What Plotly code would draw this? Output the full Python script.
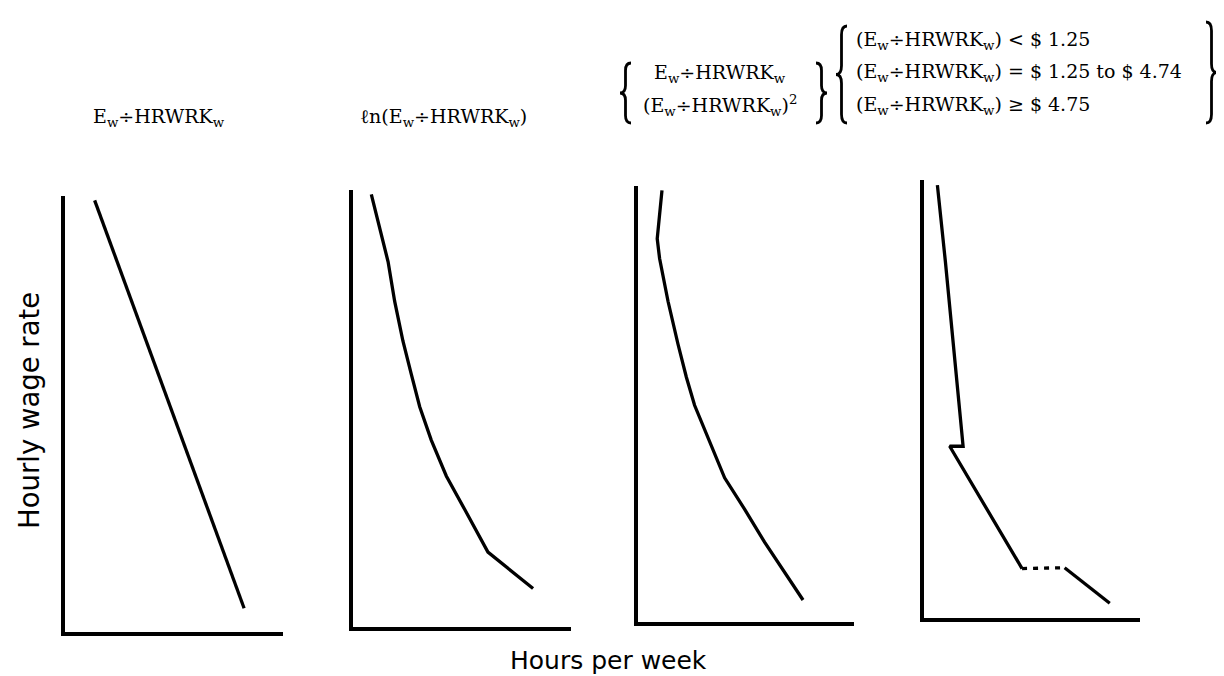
import plotly.graph_objects as go

W, H = 1224, 676

# ---- data (schematic units: hours per week 0-100, hourly wage rate 0-100) ----
p1_hours = [13.8, 59.6, 82.2]
p1_wage = [100.0, 36.9, 5.5]

p2_hours = [8.4, 11.5, 16.1, 19.1, 22.9, 26.7, 30.6, 35.9, 42.8, 51.2, 61.9, 82.6]
p2_wage = [100.0, 93.6, 84.4, 75.3, 66.1, 58.5, 50.9, 43.2, 34.9, 27.2, 17.3, 8.9]

p3_hours = [11.1, 10.0, 8.9, 10.0, 13.9, 18.5, 22.4, 26.2, 33.2, 40.1, 49.4, 58.6, 76.4]
p3_wage = [100.0, 95.0, 88.8, 84.2, 74.3, 64.4, 56.7, 50.2, 41.8, 33.4, 26.1, 18.5, 5.1]

p4_seg1_hours = [6.2, 9.9, 18.1, 11.9, 45.4]
p4_seg1_wage = [99.8, 82.2, 39.6, 39.6, 11.4]
p4_gap_hours = [45.4, 65.1]
p4_gap_wage = [11.4, 11.6]
p4_seg2_hours = [65.1, 86.0]
p4_seg2_wage = [11.6, 3.4]

sub_w = "E<sub>w</sub>÷HRWRK<sub>w</sub>"
panel_titles = [sub_w, "ℓn(" + sub_w + ")"]
left_group = [sub_w, "(" + sub_w + ")<sup>2</sup>"]
right_group = [
    "(" + sub_w + ") &lt; $ 1.25",
    "(" + sub_w + ") = $ 1.25 to $ 4.74",
    "(" + sub_w + ") ≥ $ 4.75",
]
y_label = "Hourly wage rate"
x_label = "Hours per week"

# ---- layout helpers (pixel boxes of the four panels: left, top, right, bottom) ----
panels = [
    (56.5, 188, 275, 624),
    (345, 182, 563, 619),
    (630, 178, 846, 614),
    (916, 172, 1132, 610),
]


def px(x):
    return x / W


def py(y):
    return 1 - y / H


fig = go.Figure()
line_style = dict(color="black", width=3.3)

series = [
    [(p1_hours, p1_wage, None)],
    [(p2_hours, p2_wage, None)],
    [(p3_hours, p3_wage, None)],
    [(p4_seg1_hours, p4_seg1_wage, None),
     (p4_gap_hours, p4_gap_wage, "5px,6px"),
     (p4_seg2_hours, p4_seg2_wage, None)],
]

layout_axes = {}
for i, (box, traces) in enumerate(zip(panels, series), start=1):
    xa = "x" if i == 1 else f"x{i}"
    ya = "y" if i == 1 else f"y{i}"
    for xs, ys, dash in traces:
        st = dict(line_style)
        if dash:
            st["dash"] = dash
        fig.add_trace(go.Scatter(x=xs, y=ys, mode="lines", line=st,
                                 xaxis=xa, yaxis=ya, showlegend=False,
                                 hoverinfo="skip"))
    l, t, r, b = box
    common = dict(showgrid=False, zeroline=False, showticklabels=False,
                  ticks="", showline=True, linecolor="black", linewidth=4,
                  fixedrange=True)
    layout_axes[("xaxis" if i == 1 else f"xaxis{i}")] = dict(
        domain=[px(l), px(r)], range=[0, 100], anchor=ya, **common)
    layout_axes[("yaxis" if i == 1 else f"yaxis{i}")] = dict(
        domain=[py(b), py(t)], range=[0, 101], anchor=xa, **common)

serif = dict(family="DejaVu Serif", size=19, color="black")

ann = []
# panel titles
for text, cx in zip(panel_titles, [151, 435]):
    ann.append(dict(text=text, x=px(cx), y=py(109), xref="paper", yref="paper",
                    showarrow=False, font=serif, xanchor="center", yanchor="middle"))
# left brace group
for text, cy in zip(left_group, [66, 98]):
    ann.append(dict(text=text, x=px(712), y=py(cy), xref="paper", yref="paper",
                    showarrow=False, font=serif, xanchor="center", yanchor="middle"))
# right brace group
for text, cy in zip(right_group, [32, 64, 97]):
    ann.append(dict(text=text, x=px(846), y=py(cy), xref="paper", yref="paper",
                    showarrow=False, font=serif, xanchor="left", yanchor="middle"))
# axis labels
ann.append(dict(text=y_label, x=px(21), y=py(403), xref="paper", yref="paper",
                showarrow=False, font=dict(family="DejaVu Sans", size=27.5, color="black"),
                textangle=-90, xanchor="center", yanchor="middle"))
ann.append(dict(text=x_label, x=px(600), y=py(652), xref="paper", yref="paper",
                showarrow=False, font=dict(family="DejaVu Sans", size=25, color="black"),
                xanchor="center", yanchor="middle"))


def brace(x, y0, y1, w, opening=True):
    ym = (y0 + y1) / 2
    r = min(w * 0.8, (y1 - y0) / 8)
    if opening:
        end, stem, tip = x + w, x + w / 2, x
    else:
        end, stem, tip = x, x + w / 2, x + w
    P = lambda a, b: f"{px(a):.5f},{py(b):.5f}"
    path = (f"M {P(end, y0)} Q {P(stem, y0)} {P(stem, y0 + r)} "
            f"L {P(stem, ym - r)} Q {P(stem, ym)} {P(tip, ym)} "
            f"Q {P(stem, ym)} {P(stem, ym + r)} "
            f"L {P(stem, y1 - r)} Q {P(stem, y1)} {P(end, y1)}")
    return dict(type="path", path=path, xref="paper", yref="paper",
                line=dict(color="black", width=2.8))


shapes = [
    brace(612, 55, 115, 11, True),
    brace(808, 55, 115, 11, False),
    brace(828, 18, 115, 11, True),
    brace(1198, 14, 115, 11, False),
]

fig.update_layout(width=W, height=H, margin=dict(l=0, r=0, t=0, b=0),
                  paper_bgcolor="white", plot_bgcolor="white",
                  annotations=ann, shapes=shapes, showlegend=False,
                  **layout_axes)

fig.write_html("out.html")
